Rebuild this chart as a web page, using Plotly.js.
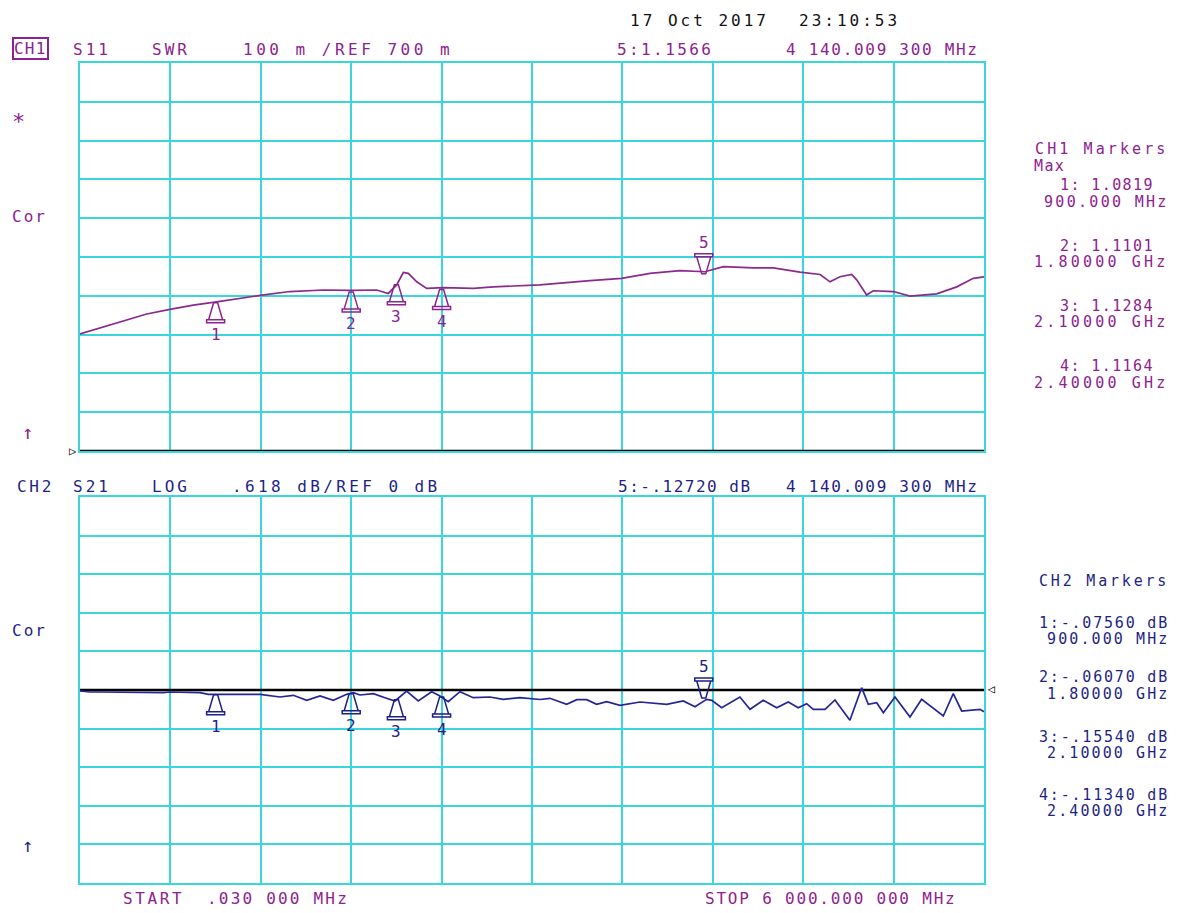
<!DOCTYPE html>
<html><head><meta charset="utf-8">
<script src="https://cdn.plot.ly/plotly-3.0.1.min.js"></script>
<style>html,body{margin:0;padding:0;background:#fff;}</style>
</head><body><div id="chart" style="width:1183px;height:913px;"></div>
<script>
// ---- data ----
const startMHz = 0.03, stopMHz = 6000;
const swrRef = 0.7, swrPerDiv = 0.1;
const s21Ref = 0, s21PerDiv = 0.618;

const swrFreqMHz = [0.03,155,310,443,597,752,918,1062,1195,1394,1615,1803,1969,2046,2102,2146,2179,2235,2301,2412,2611,2744,3053,3385,3595,3783,3982,4148,4270,4469,4602,4779,4912,4978,5044,5122,5155,5221,5265,5398,5509,5686,5819,5929,6000];
const swrValues = [1.002,1.020,1.039,1.053,1.065,1.076,1.085,1.094,1.101,1.111,1.115,1.114,1.115,1.106,1.128,1.160,1.158,1.136,1.119,1.121,1.119,1.123,1.128,1.139,1.145,1.158,1.165,1.162,1.175,1.172,1.172,1.161,1.155,1.136,1.149,1.155,1.141,1.102,1.113,1.111,1.099,1.105,1.123,1.145,1.149];

const s21FreqMHz = [0.03,66,133,553,597,796,852,918,1040,1195,1327,1416,1505,1593,1681,1770,1814,1858,1947,2024,2091,2168,2245,2334,2389,2444,2522,2610,2721,2809,2920,3053,3119,3230,3297,3363,3429,3496,3584,3717,3894,4004,4082,4159,4193,4259,4380,4447,4535,4624,4701,4767,4823,4867,4945,5011,5110,5188,5232,5288,5332,5409,5509,5586,5642,5730,5796,5852,5973,6000];
const s21ValuesDb = [-0.016,-0.032,-0.032,-0.043,-0.032,-0.043,-0.069,-0.065,-0.069,-0.069,-0.112,-0.085,-0.165,-0.096,-0.165,-0.069,-0.043,-0.080,-0.059,-0.123,-0.176,-0.016,-0.176,-0.027,-0.096,-0.187,-0.027,-0.123,-0.112,-0.149,-0.123,-0.152,-0.133,-0.229,-0.155,-0.155,-0.229,-0.187,-0.245,-0.192,-0.229,-0.176,-0.267,-0.149,-0.165,-0.283,-0.112,-0.309,-0.165,-0.283,-0.192,-0.283,-0.219,-0.309,-0.309,-0.160,-0.485,0.037,-0.229,-0.203,-0.363,-0.112,-0.432,-0.149,-0.256,-0.416,-0.059,-0.336,-0.309,-0.347];

const markerNums = ['1','2','3','4','5'];
const markerFreqMHz = [900,1800,2100,2400,4140.0093];
const markerSwr = [1.0819,1.1101,1.1284,1.1164,1.1566];
const markerS21Db = [-0.0756,-0.0607,-0.1554,-0.1134,-0.1272];

// ---- styling ----
const MONO = 'DejaVu Sans Mono, monospace';
const PURPLE = '#8e2290', NAVY = '#1f1f86', CYAN = '#3ad6de';
const W=1183,H=913,L=80,R=199,T=63,B=30;
const pw=W-L-R, ph=H-T-B;
const px2x = p => (p-L)/pw;
const py2y = p => (H-B-p)/ph;
function txt(s, px, py, color, ls, extra, size){
  return Object.assign({xref:'paper',yref:'paper',x:px2x(px),y:py2y(py),xanchor:'left',yanchor:'middle',
    showarrow:false,text:'<span style="letter-spacing:'+ls+'px">'+s+'</span>',
    font:{family:MONO,size:size||16,color:color}}, extra||{});
}
const RS = 15; // right-panel font size

const ann = [
  txt('17 Oct 2017',628,21,'#111',3.0),
  txt('23:10:53',797,21,'#111',3.0),
  txt('CH1',12,49,PURPLE,1.2,{bordercolor:PURPLE,borderwidth:2,borderpad:0}),
  txt('S11',71,50,PURPLE,3),
  txt('SWR',150,50,PURPLE,3),
  txt('100 m /REF 700 m',241,50,PURPLE,3.5),
  txt('5:1.1566',615,50,PURPLE,2.4),
  txt('4 140.009 300 MHz',784,50,PURPLE,1.7),
  txt('*',10,122,PURPLE,0,{},22),
  txt('Cor',10,216,PURPLE,2),
  txt('↑',20,432,PURPLE,0,{},19),
  txt('CH1 Markers',1033,149,PURPLE,3.1,{},RS),
  txt('Max',1032,166,PURPLE,1.4,{},RS),
  txt('1: 1.0819',1058,185,PURPLE,1.4,{},RS),
  txt('900.000 MHz',1042,202,PURPLE,2.3,{},RS),
  txt('2: 1.1101',1058,246,PURPLE,1.4,{},RS),
  txt('1.80000 GHz',1032,262,PURPLE,3.2,{},RS),
  txt('3: 1.1284',1058,306,PURPLE,1.4,{},RS),
  txt('2.10000 GHz',1032,322,PURPLE,3.2,{},RS),
  txt('4: 1.1164',1058,366,PURPLE,1.4,{},RS),
  txt('2.40000 GHz',1032,383,PURPLE,3.2,{},RS),

  txt('CH2',15,486,NAVY,2.7),
  txt('S21',71,486,NAVY,3),
  txt('LOG',150,486,NAVY,3),
  txt('.618 dB/REF 0 dB',230,486,NAVY,3.4),
  txt('5:-.12720 dB',616,486,NAVY,1.5),
  txt('4 140.009 300 MHz',784,486,NAVY,1.7),
  txt('Cor',10,630,NAVY,2),
  txt('↑',20,845,NAVY,0,{},19),
  txt('CH2 Markers',1037,581,NAVY,2.8,{},RS),
  txt('1:-.07560 dB',1037,623,NAVY,1.8,{},RS),
  txt('900.000 MHz',1045,639,NAVY,2.1,{},RS),
  txt('2:-.06070 dB',1037,677,NAVY,1.8,{},RS),
  txt('1.80000 GHz',1045,694,NAVY,2.1,{},RS),
  txt('3:-.15540 dB',1037,737,NAVY,1.8,{},RS),
  txt('2.10000 GHz',1045,753,NAVY,2.1,{},RS),
  txt('4:-.11340 dB',1037,795,NAVY,1.8,{},RS),
  txt('2.40000 GHz',1045,811,NAVY,2.1,{},RS),

  txt('START',121,898,PURPLE,2.6),
  txt('.030 000 MHz',205,898,PURPLE,2.2),
  txt('STOP 6 000.000 000 MHz',703,898,PURPLE,1.8),
  txt('▷',67,451,'#000',0,{},12),
  txt('◁',985,689,'#000',0,{},12)
];

const upPath = 'M-2,0L2,0L7,-17L-7,-17ZM-9,-17L9,-17L9,-20L-9,-20Z';
const dnPath = 'M-2,0L2,0L7,17L-7,17ZM-9,17L9,17L9,20L-9,20Z';
const shapes = [];
markerFreqMHz.forEach((f,i)=>{
  const down = (i===4);
  [[markerSwr[i],'x','y',PURPLE],[markerS21Db[i],'x2','y2',NAVY]].forEach(([v,xr,yr,col])=>{
    shapes.push({type:'path',xref:xr,yref:yr,xsizemode:'pixel',ysizemode:'pixel',xanchor:f,yanchor:v,
      path: down?dnPath:upPath, line:{color:col,width:1.5}, fillcolor:'rgba(0,0,0,0)'});
    ann.push({xref:xr,yref:yr,x:f,y:v,yshift: down?31:-32,showarrow:false,text:markerNums[i],
      xanchor:'center',yanchor:'middle',font:{family:MONO,size:16,color:col}});
  });
});

const gridAxis = {showgrid:true,gridcolor:CYAN,gridwidth:2,showline:true,linecolor:CYAN,linewidth:2,mirror:true,
  zeroline:false,showticklabels:false,ticks:''};
const xSpan = (stopMHz-startMHz)/10;

const traces = [
  {x:swrFreqMHz,y:swrValues,xaxis:'x',yaxis:'y',mode:'lines',line:{color:'#8a2a8c',width:1.7},cliponaxis:false},
  {x:[startMHz,stopMHz],y:[swrRef,swrRef],xaxis:'x',yaxis:'y',mode:'lines',line:{color:'#000',width:2.5},cliponaxis:false},
  {x:[startMHz,stopMHz],y:[s21Ref,s21Ref],xaxis:'x2',yaxis:'y2',mode:'lines',line:{color:'#000',width:2.5},cliponaxis:false},
  {x:s21FreqMHz,y:s21ValuesDb,xaxis:'x2',yaxis:'y2',mode:'lines',line:{color:'#25259a',width:1.7},cliponaxis:false}
];

const layout = {
  width:W,height:H,autosize:false,margin:{l:L,r:R,t:T,b:B,pad:0},
  paper_bgcolor:'#fff',plot_bgcolor:'#fff',showlegend:false,
  xaxis:Object.assign({},gridAxis,{domain:[0,1],anchor:'y',range:[startMHz,stopMHz],tick0:startMHz,dtick:xSpan}),
  yaxis:Object.assign({},gridAxis,{domain:[(H-B-451)/ph,1],anchor:'x',range:[swrRef,swrRef+10*swrPerDiv],tick0:swrRef,dtick:swrPerDiv}),
  xaxis2:Object.assign({},gridAxis,{domain:[0,1],anchor:'y2',range:[startMHz,stopMHz],tick0:startMHz,dtick:xSpan}),
  yaxis2:Object.assign({},gridAxis,{domain:[0,(H-B-497)/ph],anchor:'x2',range:[s21Ref-5*s21PerDiv,s21Ref+5*s21PerDiv],tick0:s21Ref,dtick:s21PerDiv}),
  annotations:ann, shapes:shapes
};
Plotly.newPlot('chart',traces,layout,{staticPlot:true,displayModeBar:false});
</script></body></html>
